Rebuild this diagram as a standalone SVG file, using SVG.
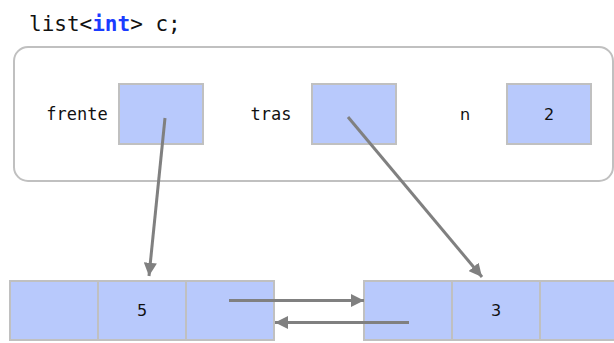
<svg xmlns="http://www.w3.org/2000/svg" width="614" height="343" viewBox="0 0 614 343">
<style>
.mono{font-family:"DejaVu Sans Mono","Liberation Mono",monospace;fill:#111}
.sans{font-family:"DejaVu Sans","Liberation Sans",sans-serif;font-size:16px;fill:#111}
.cell{fill:#b8c9fc;stroke:#c0c0c0;stroke-width:2}
.conn{stroke:#808080;stroke-width:3;fill:none}
</style>
<defs>
<marker id="ah" viewBox="0 0 10 10" refX="10" refY="5" markerWidth="4.4" markerHeight="4.4" orient="auto" markerUnits="strokeWidth">
<path d="M0,0 L10,5 L0,10 z" fill="#808080"/>
</marker>
</defs>
<rect width="614" height="343" fill="#ffffff"/>
<g id="title">
<text class="mono" x="29" y="31" font-size="21">list&lt;<tspan font-weight="bold" fill="#1a3cff">int</tspan>&gt; c;</text>
</g>
<g id="struct">
<rect x="14" y="47" width="599" height="134" rx="14" ry="14" fill="#ffffff" stroke="#c0c0c0" stroke-width="2"/>
<text class="mono" x="77" y="120" font-size="17" text-anchor="middle">frente</text>
<rect class="cell" x="119" y="84" width="84" height="60"/>
<text class="mono" x="271" y="120" font-size="17" text-anchor="middle">tras</text>
<rect class="cell" x="312" y="84" width="84" height="60"/>
<text class="sans" x="465" y="120" text-anchor="middle">n</text>
<rect class="cell" x="507" y="84" width="84" height="60"/>
<text class="sans" x="549" y="120" text-anchor="middle">2</text>
</g>
<g id="node1">
<rect class="cell" x="10" y="281" width="88" height="59"/>
<rect class="cell" x="98" y="281" width="88" height="59"/>
<rect class="cell" x="186" y="281" width="88" height="59"/>
<text class="sans" x="142" y="316" text-anchor="middle">5</text>
</g>
<g id="node2">
<rect class="cell" x="364" y="281" width="88" height="59"/>
<rect class="cell" x="452" y="281" width="88" height="59"/>
<rect class="cell" x="540" y="281" width="88" height="59"/>
<text class="sans" x="496" y="316" text-anchor="middle">3</text>
</g>
<g id="connectors">
<line class="conn" x1="165" y1="118" x2="149" y2="276" marker-end="url(#ah)"/>
<line class="conn" x1="348" y1="117" x2="482" y2="277" marker-end="url(#ah)"/>
<line class="conn" x1="229" y1="300.5" x2="364" y2="300.5" marker-end="url(#ah)"/>
<line class="conn" x1="409" y1="322.5" x2="275" y2="322.5" marker-end="url(#ah)"/>
</g>
</svg>
